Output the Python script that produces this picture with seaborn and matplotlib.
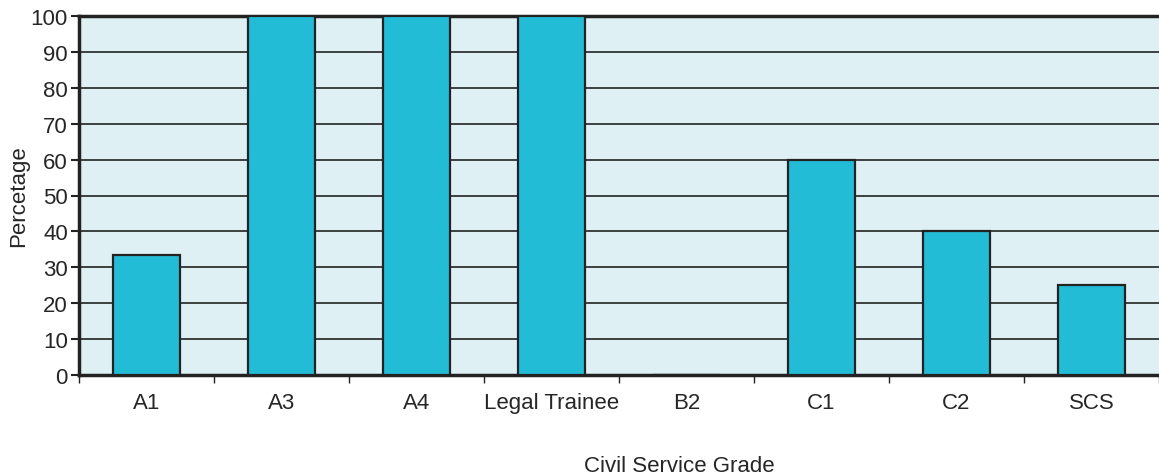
"""Bar chart of percentage by civil service grade."""

import matplotlib

matplotlib.use("Agg")

import matplotlib.pyplot as plt
import numpy as np
import pandas as pd
import seaborn as sns


grades = ["A1", "A3", "A4", "Legal Trainee", "B2", "C1", "C2", "SCS"]
percentages = [33.3, 100, 100, 100, 0, 60, 40, 25]

BAR_COLOR = "#22bcd6"
FACE_COLOR = "#dff0f5"
LINE_COLOR = "#222222"


def main() -> None:
	frame = pd.DataFrame({"grade": grades, "percentage": percentages})

	sns.set_style("white")
	plt.rcParams["font.family"] = ["Liberation Sans", "DejaVu Sans"]

	fig = plt.figure(figsize=(11.59, 4.77), dpi=100)
	ax = fig.add_axes([79 / 1159, 1 - 376 / 477, 1 - 79 / 1159, 359 / 477])
	ax.set_facecolor(FACE_COLOR)

	sns.barplot(
		data=frame,
		x="grade",
		y="percentage",
		color=BAR_COLOR,
		saturation=1,
		width=0.5,
		edgecolor=LINE_COLOR,
		linewidth=1.6,
		zorder=3,
		ax=ax,
	)

	ax.set_xlim(-0.5, len(grades) - 0.5)
	ax.set_ylim(0, 100)
	ax.set_yticks(np.arange(0, 101, 10))
	ax.yaxis.grid(True, color=LINE_COLOR, linewidth=1.2, zorder=1)
	ax.set_axisbelow(True)

	# category boundaries carry the tick marks, centres carry the labels
	ax.set_xticks(np.arange(-0.5, len(grades), 1.0), minor=True)
	ax.tick_params(axis="x", which="major", bottom=False, length=0, pad=12, labelsize=16)
	ax.tick_params(axis="x", which="minor", bottom=True, length=6, width=1, color=LINE_COLOR,
		direction="out")
	ax.tick_params(axis="y", which="major", left=True, length=6, width=1.5, color=LINE_COLOR,
		direction="out", labelsize=16, pad=2)

	for side in ["left", "bottom", "top"]:
		ax.spines[side].set_color(LINE_COLOR)
		ax.spines[side].set_linewidth(2.5)
	ax.spines["right"].set_visible(False)

	ax.set_xlabel("Civil Service Grade", fontsize=16)
	ax.set_ylabel("Percetage", fontsize=16)
	ax.xaxis.set_label_coords(0.556, -0.222)
	ax.yaxis.set_label_coords(-0.046, 0.5)

	fig.savefig("out.png", dpi=100)
	plt.close(fig)


if __name__ == "__main__":
	main()
